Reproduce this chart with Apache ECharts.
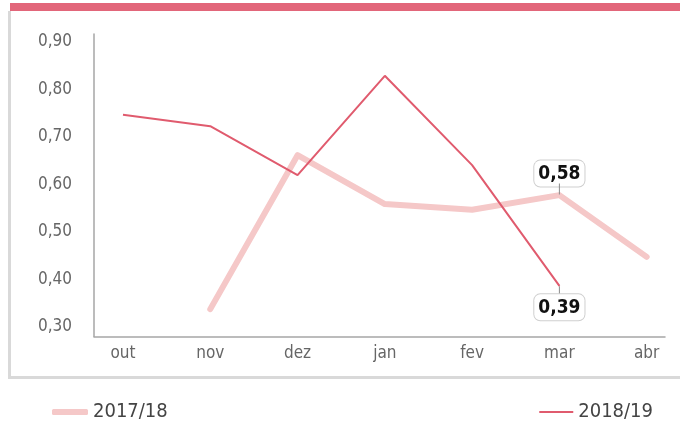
<!DOCTYPE html>
<html>
<head>
<meta charset="utf-8">
<script src="https://cdn.jsdelivr.net/npm/echarts@6/dist/echarts.min.js"></script>
<style>
html,body{margin:0;padding:0;background:#fff;}
#c{width:680px;height:423px;}
</style>
</head>
<body>
<div id="c"></div>
<script>
var months = ['out','nov','dez','jan','fev','mar','abr'];
var yTicks = [0.3,0.4,0.5,0.6,0.7,0.8,0.9];
var s1718 = [null, 0.337, 0.661, 0.558, 0.546, 0.577, 0.447];
var s1819 = [0.746, 0.722, 0.619, 0.828, 0.640, 0.386, null];
var labelled = 5; // index of 'mar'

var FONT = "'DejaVu Sans Condensed','Roboto Condensed',Roboto,sans-serif";
var PINK = '#f5c8c8';
var RED = '#e05b6e';

function pairs(arr, lblPos){
  return arr.map(function(v,i){
    if (v === null) return [i, null];
    var item = {value:[i,v]};
    if (i === labelled){
      item.symbol = 'circle';
      item.symbolSize = 1;
      item.label = {
        show:true, position: lblPos, distance: 0,
        formatter: function(p){
          var t = '{v|' + p.value[1].toFixed(2).replace('.',',') + '}';
          return lblPos === 'top' ? t + '\n{l|}' : '{l|}\n' + t;
        },
        rich:{
          v:{fontFamily: FONT, fontSize: 19, fontWeight:'bold', color:'#111', align:'center',
             backgroundColor:'#fff', borderColor:'#cfcfcf', borderWidth:1, borderRadius:6,
             padding:[4,4,3,4], lineHeight:20},
          l:{width:1, height:11, lineHeight:11, backgroundColor:'#8a8a8a', align:'center'}
        }
      };
    }
    return item;
  });
}

var chart = echarts.init(document.getElementById('c'), null, {renderer:'canvas'});
chart.setOption({
  animation:false,
  graphic:[
    {type:'rect', shape:{x:10,y:3,width:670,height:8}, style:{fill:'#e2667a'}, z:100},
    {type:'rect', shape:{x:8,y:11,width:3,height:368}, style:{fill:'#d9d9d9'}},
    {type:'rect', shape:{x:8,y:376,width:672,height:3}, style:{fill:'#d9d9d9'}}
  ],
  grid:{left:94,right:15,top:34,bottom:86.5,containLabel:false},
  xAxis:{
    type:'value', min:-0.332, max:6.21,
    splitLine:{show:false},
    axisLine:{show:true,onZero:false,lineStyle:{color:'#a6a6a6',width:1.5}},
    axisTick:{show:false},
    axisLabel:{customValues:[0,1,2,3,4,5,6], formatter:function(v){return months[Math.round(v)];},
      color:'#666', fontFamily:FONT, fontSize:17, margin:9}
  },
  yAxis:{
    type:'value', min:0.2794, max:0.916,
    splitLine:{show:false},
    axisLine:{show:true,onZero:false,lineStyle:{color:'#a6a6a6',width:1.5}},
    axisTick:{show:false},
    axisLabel:{customValues:yTicks, formatter:function(v){return v.toFixed(2).replace('.',',');},
      color:'#666', fontFamily:FONT, fontSize:17, margin:22}
  },
  legend:[
    {data:['2017/18'], left:47, top:397, icon:'roundRect', itemWidth:36, itemHeight:6, itemGap:10,
      textStyle:{color:'#444', fontFamily:FONT, fontSize:20}},
    {data:['2018/19'], right:22, top:397, icon:'rect', itemWidth:34, itemHeight:2,
      textStyle:{color:'#444', fontFamily:FONT, fontSize:20}}
  ],
  series:[
    {name:'2017/18', type:'line', data:pairs(s1718,'top'), symbol:'none', connectNulls:false, z:2,
      itemStyle:{color:PINK},
      lineStyle:{color:PINK, width:6, cap:'round', join:'round'}},
    {name:'2018/19', type:'line', data:pairs(s1819,'bottom'), symbol:'none', connectNulls:false, z:3,
      itemStyle:{color:RED},
      lineStyle:{color:RED, width:2}}
  ]
});
</script>
</body>
</html>
